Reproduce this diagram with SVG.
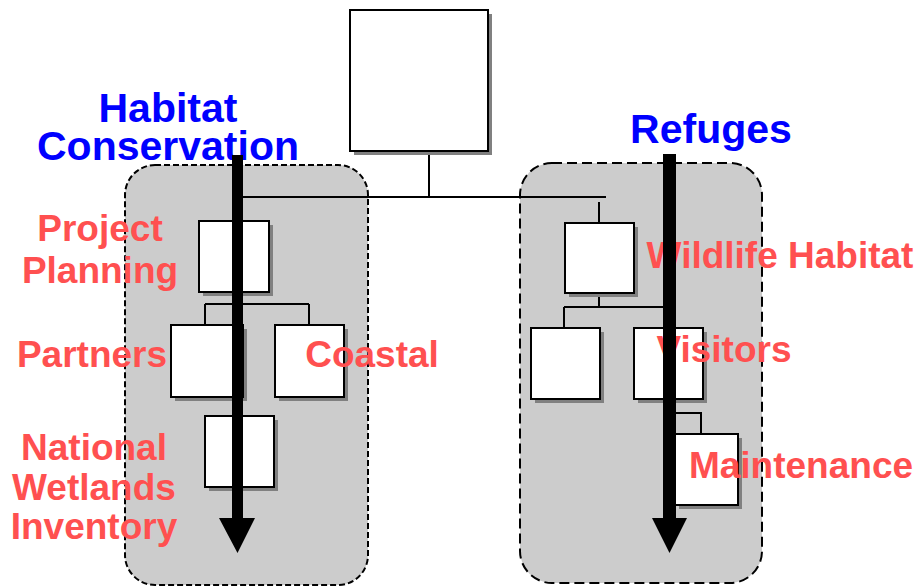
<svg xmlns="http://www.w3.org/2000/svg" width="918" height="587" viewBox="0 0 918 587">
<style>
.panel{fill:#CCCCCC;stroke:#000;stroke-width:2}
.box{fill:#fff;stroke:#000;stroke-width:2}
.sh{fill:#808080}
.ln{fill:none;stroke:#000;stroke-width:2}
.blue{font-family:"Liberation Sans",Arial,sans-serif;font-weight:bold;font-size:41px;fill:#0000FF;text-anchor:middle}
.red{font-family:"Liberation Sans",Arial,sans-serif;font-weight:bold;font-size:37px;fill:#FF5050;text-anchor:middle}
</style>
<rect width="918" height="587" fill="#fff"/>
<g id="panel-left"><rect class="panel" x="125" y="165" width="243" height="420" rx="30" stroke-dasharray="6,3"/></g>
<g id="panel-right"><rect class="panel" x="520" y="163" width="242" height="420" rx="32" stroke-dasharray="10,5"/></g>
<g id="connectors">
<path class="ln" d="M429,151 V197 M237,197 H606 M599,202 V223"/>
<path class="ln" d="M234,197 V221 M234,292 V304 M205,304 H309 M205,304 V325 M309,304 V325 M237,397 V416"/>
<path class="ln" d="M599,293 V307 M564,307 H667 M564,307 V328 M667,307 V328 M668,399 V413 H701 V434"/>
</g>
<g id="node-top"><rect class="sh" x="354" y="14" width="138" height="141"/><rect class="box" x="350" y="10" width="138" height="141"/></g>
<g id="node-project-planning"><rect class="sh" x="203" y="225" width="70" height="71"/><rect class="box" x="199" y="221" width="70" height="71"/></g>
<g id="node-partners"><rect class="sh" x="175" y="329" width="72" height="72"/><rect class="box" x="171" y="325" width="72" height="72"/></g>
<g id="node-coastal"><rect class="sh" x="279" y="329" width="69" height="72"/><rect class="box" x="275" y="325" width="69" height="72"/></g>
<g id="node-nwi"><rect class="sh" x="209" y="420" width="69" height="71"/><rect class="box" x="205" y="416" width="69" height="71"/></g>
<g id="node-wildlife-habitat"><rect class="sh" x="569" y="227" width="69" height="70"/><rect class="box" x="565" y="223" width="69" height="70"/></g>
<g id="node-right-a"><rect class="sh" x="535" y="332" width="69" height="71"/><rect class="box" x="531" y="328" width="69" height="71"/></g>
<g id="node-visitors"><rect class="sh" x="638" y="332" width="69" height="71"/><rect class="box" x="634" y="328" width="69" height="71"/></g>
<g id="node-maintenance"><rect class="sh" x="679" y="438" width="63" height="71"/><rect class="box" x="675" y="434" width="63" height="71"/></g>
<g id="labels">
<text class="blue" x="168" y="122">Habitat</text>
<text class="blue" x="168" y="160">Conservation</text>
<text class="blue" x="711" y="143">Refuges</text>
<text class="red" x="100" y="241">Project</text>
<text class="red" x="100" y="283">Planning</text>
<text class="red" x="92" y="367">Partners</text>
<text class="red" x="372" y="367">Coastal</text>
<text class="red" x="94" y="460">National</text>
<text class="red" x="94" y="500">Wetlands</text>
<text class="red" x="94" y="539">Inventory</text>
<text class="red" x="780" y="268">Wildlife Habitat</text>
<text class="red" x="724" y="362">Visitors</text>
<text class="red" x="801" y="478">Maintenance</text>
</g>
<g id="arrows">
<path d="M232,155 H243 V518 H255 L237.5,553 L219,518 H232 Z" fill="#000"/>
<path d="M663,154 H676 V518 H687 L669.5,553 L652,518 H663 Z" fill="#000"/>
</g>
</svg>
